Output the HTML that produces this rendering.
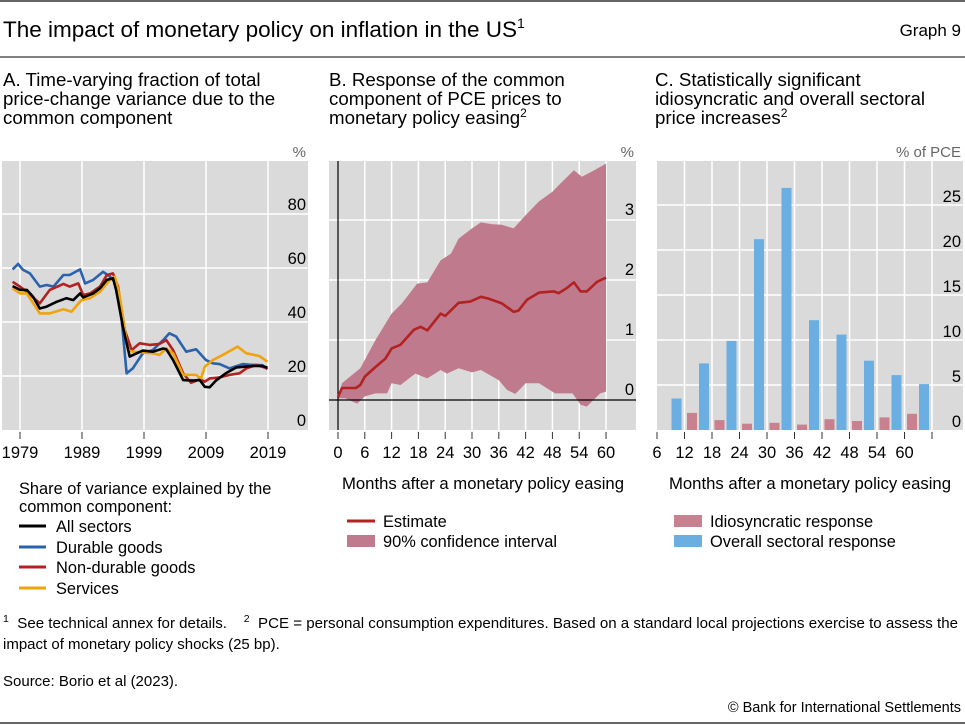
<!DOCTYPE html>
<html><head><meta charset="utf-8">
<style>
html,body{margin:0;padding:0;background:#fff;}
svg{display:block;font-family:"Liberation Sans",sans-serif;}
</style></head>
<body>
<svg id="root" width="965" height="725" viewBox="0 0 965 725" xmlns="http://www.w3.org/2000/svg">
  <line x1="0" y1="1" x2="965" y2="1" stroke="#333" stroke-width="1.5"/>
  <text x="3" y="37" font-size="22.5" fill="#000">The impact of monetary policy on inflation in the US<tspan font-size="14" dy="-9">1</tspan></text>
  <text x="961" y="36" font-size="17" fill="#000" text-anchor="end">Graph 9</text>
  <line x1="0" y1="57" x2="965" y2="57" stroke="#555" stroke-width="1.5"/>

  <g font-size="18.7" fill="#000">
    <text x="3" y="86">A. Time-varying fraction of total</text>
    <text x="3" y="105">price-change variance due to the</text>
    <text x="3" y="124">common component</text>
  </g>
  <g font-size="18.7" fill="#000">
    <text x="329" y="86">B. Response of the common</text>
    <text x="329" y="105">component of PCE prices to</text>
    <text x="329" y="124">monetary policy easing<tspan font-size="12" dy="-7">2</tspan></text>
  </g>
  <g font-size="18.7" fill="#000">
    <text x="655" y="86">C. Statistically significant</text>
    <text x="655" y="105">idiosyncratic and overall sectoral</text>
    <text x="655" y="124">price increases<tspan font-size="12" dy="-7">2</tspan></text>
  </g>

  <g id="panelA"></g>
  <g id="panelB"></g>
  <g id="panelC"></g>

  <!-- Legend A -->
  <g font-size="16.4" fill="#000">
    <text x="19" y="494">Share of variance explained by the</text>
    <text x="19" y="512">common component:</text>
    <g><line x1="19" y1="526" x2="46" y2="526" stroke="#000" stroke-width="3"/><text x="56" y="532">All sectors</text></g>
    <g><line x1="19" y1="547" x2="46" y2="547" stroke="#2a62ad" stroke-width="3"/><text x="56" y="553">Durable goods</text></g>
    <g><line x1="19" y1="567" x2="46" y2="567" stroke="#b22222" stroke-width="3"/><text x="56" y="573">Non-durable goods</text></g>
    <g><line x1="19" y1="588" x2="46" y2="588" stroke="#f0a30a" stroke-width="3"/><text x="56" y="594">Services</text></g>
  </g>
  <!-- Legend B -->
  <text x="342" y="489" font-size="16.7">Months after a monetary policy easing</text>
  <g font-size="16.4">
    <g><line x1="347" y1="521" x2="375" y2="521" stroke="#b22222" stroke-width="3"/><text x="383" y="527">Estimate</text></g>
    <g><rect x="347" y="535" width="28" height="12" fill="#c07a8e"/><text x="383" y="547">90% confidence interval</text></g>
  </g>
  <!-- Legend C -->
  <text x="669" y="489" font-size="16.7">Months after a monetary policy easing</text>
  <g font-size="16.4">
    <g><rect x="674" y="515" width="28" height="12" fill="#c7818f"/><text x="710" y="527">Idiosyncratic response</text></g>
    <g><rect x="674" y="535" width="28" height="12" fill="#6aaee2"/><text x="710" y="547">Overall sectoral response</text></g>
  </g>

  <g font-size="15" fill="#000">
    <text x="3" y="628" textLength="955" lengthAdjust="spacingAndGlyphs" xml:space="preserve"><tspan font-size="10.5" dy="-6">1</tspan><tspan dy="6">  See technical annex for details.    </tspan><tspan font-size="10.5" dy="-6">2</tspan><tspan dy="6">  PCE = personal consumption expenditures. Based on a standard local projections exercise to assess the</tspan></text>
    <text x="3" y="649">impact of monetary policy shocks (25 bp).</text>
    <text x="3" y="686">Source: Borio et al (2023).</text>
    <text x="961" y="712" font-size="14.5" text-anchor="end">© Bank for International Settlements</text>
  </g>
  <line x1="0" y1="723" x2="965" y2="723" stroke="#333" stroke-width="1.5"/>
</svg>
<script>
// ---------- Panel A data ----------
const yearTicks = [1979, 1989, 1999, 2009, 2019];
const aTicks = [0, 20, 40, 60, 80];
const allYears = [1977.8,1979,1980.1,1981.1,1982.2,1983.3,1984.9,1986.5,1987.6,1988.7,1989.2,1990.8,1991.9,1993,1994,1994.5,1995.6,1996.7,1997.8,1998.8,2000.4,2002.1,2002.6,2003.7,2005.3,2006.9,2008,2008.8,2009.6,2010.6,2012.2,2013.9,2016.5,2018.1,2018.9];
const allVals = [53.3,51.9,51.9,49.4,45,45.7,47.5,48.8,48.1,50.6,49.1,50.6,52.5,55.6,56.2,51.9,38.3,27.2,28.4,29.4,29,30.2,29.9,25.9,18.5,18.3,18.5,16,15.8,18.3,21,23.2,23.7,23.7,23.1];
const durYears = [1977.8,1978.7,1979.5,1980.6,1982.2,1983.3,1984.4,1986,1987,1988.7,1989.5,1990.8,1992.4,1993.5,1994.5,1995.4,1996.2,1997.2,1998.8,2000.4,2002.1,2003.1,2004.2,2005.8,2007.4,2009,2010.1,2011.2,2012.8,2014.9,2016.5,2018.1,2018.9];
const durVals = [59.5,61.5,59.3,58,53.1,53.7,53.1,57.4,57.4,59.5,54.3,55.6,58.6,56.8,54.3,40.7,21,22.8,28.4,29.6,33.3,35.8,34.6,29,29.9,25.9,24.7,24.4,22.8,24.4,24.1,24,22.5];
const ndYears = [1977.8,1979,1980.1,1982.2,1983.8,1986,1987,1988.4,1989.2,1990.3,1991.9,1993,1994,1994.8,1995.9,1997,1998.3,1999.9,2001.5,2002.6,2003.7,2005.3,2006.6,2008,2008.8,2009.6,2011.2,2012.8,2014.4,2015.5,2017.1,2018.9];
const ndVals = [54.9,53.1,51.2,46.9,51.9,54.1,53.1,54.3,50,50.6,53.1,57.4,58,53.1,37,29.6,32.1,31.5,31.9,33.3,29.6,21,17.5,18.8,17.9,19.1,19.5,20.4,21,22.8,24.1,22.8];
const svYears = [1977.8,1979,1980.1,1982.2,1983.8,1986,1987.3,1988.9,1990.3,1991.9,1993.5,1994.3,1995.1,1996.4,1997.2,2000.4,2001.5,2002.6,2003.7,2005.3,2007.4,2008.2,2008.8,2010.1,2012.2,2014.1,2015.5,2017.6,2018.9];
const svVals = [52.5,50.6,50.6,43.2,43.2,44.7,43.8,48.1,48.8,51.2,55.6,56.8,49.4,29.6,29,28.4,27.8,30.2,28.4,20.4,20.4,19.1,23.5,25.9,28.4,30.9,28.4,27.4,25.3];

// ---------- Panel B data ----------
const monthTicks = [0, 6, 12, 18, 24, 30, 36, 42, 48, 54, 60];
const bTicks = [0, 1, 2, 3];
const estMonths = [0,0.9,4,5,6,8.4,10.6,12,14,17,18.5,20,23,24,27,29.6,32,33.7,36.7,39.3,40.4,42.3,45,48.3,49.4,51.3,52.8,54.3,55.7,58,60];
const estVals = [0.05,0.2,0.2,0.25,0.39,0.55,0.69,0.86,0.92,1.17,1.22,1.16,1.44,1.4,1.62,1.64,1.72,1.69,1.61,1.47,1.49,1.67,1.79,1.81,1.78,1.87,1.96,1.81,1.81,1.97,2.04];
const upMonths = [0,0.9,5,8.4,12,14.3,17.7,20,23,25.3,27,30,32,34.6,36.7,39.3,42,45,48,49.4,52.8,54.6,56.9,60];
const upVals = [0.05,0.28,0.53,1.0,1.44,1.61,1.94,1.96,2.33,2.44,2.69,2.86,2.96,2.93,2.92,2.86,3.08,3.31,3.47,3.58,3.83,3.72,3.81,3.94];
const loMonths = [0,1.6,4.3,6,8.4,11,12,14,17.3,20,23,24.4,27,30,32,36,37.8,39.7,42,45,48.6,52.5,54.3,55.7,58.7,60];
const loVals = [0.03,0.03,-0.06,0.06,0.11,0.11,0.28,0.25,0.44,0.36,0.5,0.44,0.53,0.46,0.5,0.33,0.17,0.1,0.28,0.28,0.11,0.11,-0.08,-0.11,0.11,0.14];

// ---------- Panel C data ----------
const cCategories = ['6','12','18','24','30','36','42','48','54','60'];
const idioVals = [0, 1.9, 1.1, 0.7, 0.8, 0.6, 1.2, 1.0, 1.4, 1.8];
const overallVals = [3.5, 7.4, 9.9, 21.2, 26.9, 12.2, 10.6, 7.7, 6.1, 5.1];
const cTicks = [0, 5, 10, 15, 20, 25];

const NS = 'http://www.w3.org/2000/svg';
function mk(tag, attrs, parent) {
  const el = document.createElementNS(NS, tag);
  for (const k in attrs) el.setAttribute(k, attrs[k]);
  parent.appendChild(el);
  return el;
}
function pathFrom(xs, ys, fx, fy) {
  return xs.map((x, i) => (i ? 'L' : 'M') + fx(x).toFixed(1) + ',' + fy(ys[i]).toFixed(1)).join(' ');
}

// Panel A
(function () {
  const g = document.getElementById('panelA');
  const xA = y => 20 + (y - 1979) * 6.2;
  const yA = v => 430 - v * 2.7;
  const bg = mk('rect', {x: 2, y: 161, width: 306, height: 269, fill: '#dadada'}, g);
  
  
  aTicks.forEach(v => {
    if (v > 0) {
      const l = mk('line', {x1: 2, x2: 308, y1: yA(v), y2: yA(v), stroke: '#fff', 'stroke-width': 1.5}, g);
      
      
    }
    const t = mk('text', {x: 306, y: yA(v) - 4, 'font-size': 16.5, 'text-anchor': 'end'}, g);
    t.textContent = v;
    
    
  });
  yearTicks.forEach(y => {
    const l = mk('line', {x1: xA(y), x2: xA(y), y1: 161, y2: 430, stroke: '#fff', 'stroke-width': 1.5}, g);
    
    
    const tk = mk('line', {x1: xA(y), x2: xA(y), y1: 432, y2: 439, stroke: '#333', 'stroke-width': 1}, g);
    
    
    const t = mk('text', {x: xA(y), y: 458, 'font-size': 16.5, 'text-anchor': 'middle'}, g);
    t.textContent = y;
    
    
  });
  const unit = mk('text', {x: 306, y: 157, 'font-size': 15, 'text-anchor': 'end', fill: '#666'}, g);
  unit.textContent = '%';
  
  
  const series = [
    ['series-durable-goods', durYears, durVals, '#2a62ad'],
    ['series-non-durable-goods', ndYears, ndVals, '#b22222'],
    ['series-services', svYears, svVals, '#f0a30a'],
    ['series-all-sectors', allYears, allVals, '#000']
  ];
  series.forEach(s => {
    const p = mk('path', {d: pathFrom(s[1], s[2], xA, yA), fill: 'none', stroke: s[3], 'stroke-width': 2.6, 'stroke-linejoin': 'round'}, g);
    
    
  });
})();

// Panel B
(function () {
  const g = document.getElementById('panelB');
  const xB = m => 338 + m * 4.467;
  const yB = v => 400 - v * 60;
  const bg = mk('rect', {x: 329, y: 161, width: 307, height: 269, fill: '#dadada'}, g);
  
  
  bTicks.forEach(v => {
    if (v > 0) {
      const l = mk('line', {x1: 329, x2: 636, y1: yB(v), y2: yB(v), stroke: '#fff', 'stroke-width': 1.5}, g);
      
      
    }
    const t = mk('text', {x: 634, y: yB(v) - 5, 'font-size': 16.5, 'text-anchor': 'end'}, g);
    t.textContent = v;
    
    
  });
  monthTicks.forEach(m => {
    if (m > 0) {
      const l = mk('line', {x1: xB(m), x2: xB(m), y1: 161, y2: 430, stroke: '#fff', 'stroke-width': 1.5}, g);
      
      
    }
    const tk = mk('line', {x1: xB(m), x2: xB(m), y1: 432, y2: 439, stroke: '#333', 'stroke-width': 1}, g);
    
    
    const t = mk('text', {x: xB(m), y: 458, 'font-size': 16.5, 'text-anchor': 'middle'}, g);
    t.textContent = m;
    
    
  });
  const unit = mk('text', {x: 634, y: 157, 'font-size': 15, 'text-anchor': 'end', fill: '#666'}, g);
  unit.textContent = '%';
  
  
  const up = pathFrom(upMonths, upVals, xB, yB);
  const loR = loMonths.slice().reverse(), loVR = loVals.slice().reverse();
  const lo = loR.map((m, i) => 'L' + xB(m).toFixed(1) + ',' + yB(loVR[i]).toFixed(1)).join(' ');
  const band = mk('path', {d: up + ' ' + lo + ' Z', fill: '#c07a8e'}, g);
  
  
  const zl = mk('line', {x1: 329, x2: 636, y1: yB(0), y2: yB(0), stroke: '#000', 'stroke-width': 1.2}, g);
  
  
  const va = mk('line', {x1: xB(0), x2: xB(0), y1: 161, y2: 430, stroke: '#000', 'stroke-width': 1.2}, g);
  
  
  const est = mk('path', {d: pathFrom(estMonths, estVals, xB, yB), fill: 'none', stroke: '#b22222', 'stroke-width': 2.6, 'stroke-linejoin': 'round'}, g);
  
  
})();

// Panel C
(function () {
  const g = document.getElementById('panelC');
  const step = 27.5;
  const xC = i => 657 + i * step;
  const yC = v => 430 - v * 9;
  const bg = mk('rect', {x: 657, y: 161, width: 306, height: 269, fill: '#dadada'}, g);
  
  
  cTicks.forEach(v => {
    if (v > 0) {
      const l = mk('line', {x1: 657, x2: 963, y1: yC(v), y2: yC(v), stroke: '#fff', 'stroke-width': 1.5}, g);
      
      
    }
    const t = mk('text', {x: 961, y: yC(v) - 3, 'font-size': 16.5, 'text-anchor': 'end'}, g);
    t.textContent = v;
    
    
  });
  for (let i = 0; i <= cCategories.length; i++) {
    if (i > 0) {
      const l = mk('line', {x1: xC(i), x2: xC(i), y1: 161, y2: 430, stroke: '#fff', 'stroke-width': 1.5}, g);
      
      
    }
    const tk = mk('line', {x1: xC(i), x2: xC(i), y1: 432, y2: 439, stroke: '#333', 'stroke-width': 1}, g);
    
    
  }
  cCategories.forEach((c, i) => {
    const t = mk('text', {x: xC(i), y: 458, 'font-size': 16.5, 'text-anchor': 'middle'}, g);
    t.textContent = c;
    
    
    if (idioVals[i] > 0) {
      const r = mk('rect', {x: xC(i) + 2.5, y: yC(idioVals[i]), width: 10, height: yC(0) - yC(idioVals[i]), fill: '#c7818f'}, g);
      
      
    }
    const b = mk('rect', {x: xC(i) + 14.5, y: yC(overallVals[i]), width: 10, height: yC(0) - yC(overallVals[i]), fill: '#6aaee2'}, g);
    
    
  });
  const unit = mk('text', {x: 961, y: 157, 'font-size': 15, 'text-anchor': 'end', fill: '#666'}, g);
  unit.textContent = '% of PCE';
  
  
})();
</script>
</body></html>
